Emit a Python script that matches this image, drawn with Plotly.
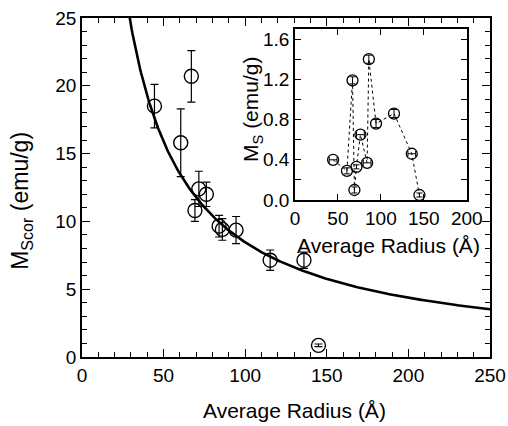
import numpy as np
import plotly.graph_objects as go

# ---- data ----
radius = [44.4, 60.5, 67.0, 69.2, 71.6, 76.2, 84.0, 86.0, 94.4, 115.3, 136.0, 144.9]
m_scor = [18.5, 15.8, 20.7, 10.8, 12.4, 12.0, 9.65, 9.41, 9.36, 7.14, 7.14, 0.86]
m_scor_err = [1.6, 2.5, 1.9, 0.8, 1.3, 0.9, 0.8, 0.8, 1.0, 0.75, 0.6, 0.1]

m_s = [0.40, 0.29, 1.19, 0.10, 0.33, 0.65, 0.37, 1.40, 0.76, 0.86, 0.46, 0.05]
m_s_err_y = [0.0, 0.03, 0.035, 0.03, 0.02, 0.0, 0.0, 0.04, 0.04, 0.04, 0.0, 0.02]
m_s_err_x = [4.5, 0.0, 0.0, 0.0, 0.0, 4.5, 4.5, 0.0, 0.0, 0.0, 4.5, 0.0]

# fit curve parameters  M = A / (r + r0)
fit_A = 905.0
fit_r0 = 7.0
fit_r = np.linspace(20, 250, 400)
fit_m = fit_A / (fit_r + fit_r0)

FONT = "Liberation Sans, Arial, Helvetica, sans-serif"
TICK_SIZE = 19
TITLE_SIZE = 21

fig = go.Figure()

# main fit curve
fig.add_trace(go.Scatter(x=fit_r, y=fit_m, mode="lines",
                         line=dict(color="black", width=2.6),
                         hoverinfo="skip", showlegend=False))
# main data
fig.add_trace(go.Scatter(
    x=radius, y=m_scor, mode="markers",
    marker=dict(symbol="circle-open", size=14, color="black", line=dict(width=1.4)),
    error_y=dict(type="data", array=m_scor_err, color="black", thickness=1.2, width=4),
    showlegend=False))

# inset: dotted connecting line + markers
order = np.argsort(radius)
fig.add_trace(go.Scatter(
    x=[radius[i] for i in order], y=[m_s[i] for i in order], mode="lines",
    line=dict(color="black", width=1, dash="dot"),
    xaxis="x2", yaxis="y2", showlegend=False))
vy_idx = [i for i in range(len(radius)) if m_s_err_y[i] > 0]
hx_idx = [i for i in range(len(radius)) if m_s_err_x[i] > 0]
fig.add_trace(go.Scatter(
    x=[radius[i] for i in vy_idx], y=[m_s[i] for i in vy_idx], mode="markers",
    marker=dict(symbol="circle-open", size=11, color="black", line=dict(width=1.3)),
    error_y=dict(type="data", array=[m_s_err_y[i] for i in vy_idx], color="black", thickness=1, width=3),
    xaxis="x2", yaxis="y2", showlegend=False))
fig.add_trace(go.Scatter(
    x=[radius[i] for i in hx_idx], y=[m_s[i] for i in hx_idx], mode="markers",
    marker=dict(symbol="circle-open", size=11, color="black", line=dict(width=1.3)),
    error_x=dict(type="data", array=[m_s_err_x[i] for i in hx_idx], color="black", thickness=1, width=3),
    xaxis="x2", yaxis="y2", showlegend=False))

axis_common = dict(showline=True, linecolor="black", linewidth=1.5, mirror="ticks",
                   ticks="inside", tickcolor="black", tickwidth=1.3,
                   showgrid=False, zeroline=False, automargin=False,
                   tickfont=dict(family=FONT, size=TICK_SIZE, color="black"))

fig.update_layout(
    width=508, height=426, autosize=False,
    margin=dict(l=82, r=18, t=18, b=69),
    paper_bgcolor="white", plot_bgcolor="white",
    font=dict(family=FONT, color="black"),
    xaxis=dict(range=[0, 250], tickvals=[0, 50, 100, 150, 200, 250], ticklen=8,
               minor=dict(dtick=10, ticks="inside", ticklen=5, tickcolor="black", tickwidth=1.3),
               domain=[0, 1], **axis_common),
    yaxis=dict(range=[0, 25], tickvals=[0, 5, 10, 15, 20, 25], ticklen=8,
               minor=dict(dtick=1, ticks="inside", ticklen=5, tickcolor="black", tickwidth=1.3),
               domain=[0, 1], **axis_common),
    xaxis2=dict(range=[0, 200], tickvals=[0, 50, 100, 150, 200], ticklen=6,
                domain=[0.522, 0.943], anchor="y2", **axis_common),
    yaxis2=dict(range=[0, 1.7], tickvals=[0, 0.4, 0.8, 1.2, 1.6], tickformat=".1f", ticklen=6,
                minor=dict(dtick=0.2, ticks="inside", ticklen=6, tickcolor="black", tickwidth=1.3),
                domain=[0.463, 0.9675], anchor="x2", **axis_common),
    annotations=[
        dict(text="Average Radius (Å)", x=0.52, y=-0.158, xref="paper", yref="paper",
             showarrow=False, font=dict(family=FONT, size=TITLE_SIZE, color="black"),
             xanchor="center", yanchor="middle"),
        dict(text="M<sub>Scor</sub> (emu/g)", x=-0.15, y=0.46, xref="paper", yref="paper",
             showarrow=False, textangle=-90, font=dict(family=FONT, size=23, color="black"),
             xanchor="center", yanchor="middle"),
        dict(text="Average Radius (Å)", x=0.752, y=0.33, xref="paper", yref="paper",
             showarrow=False, font=dict(family=FONT, size=TITLE_SIZE, color="black"),
             xanchor="center", yanchor="middle"),
        dict(text="M<sub>S</sub> (emu/g)", x=0.417, y=0.729, xref="paper", yref="paper",
             showarrow=False, textangle=-90, font=dict(family=FONT, size=TITLE_SIZE, color="black"),
             xanchor="center", yanchor="middle"),
    ],
)

fig.write_html("out.html", config={"displayModeBar": False},
               post_script="document.body.style.margin='0px';document.body.style.padding='0px';")
